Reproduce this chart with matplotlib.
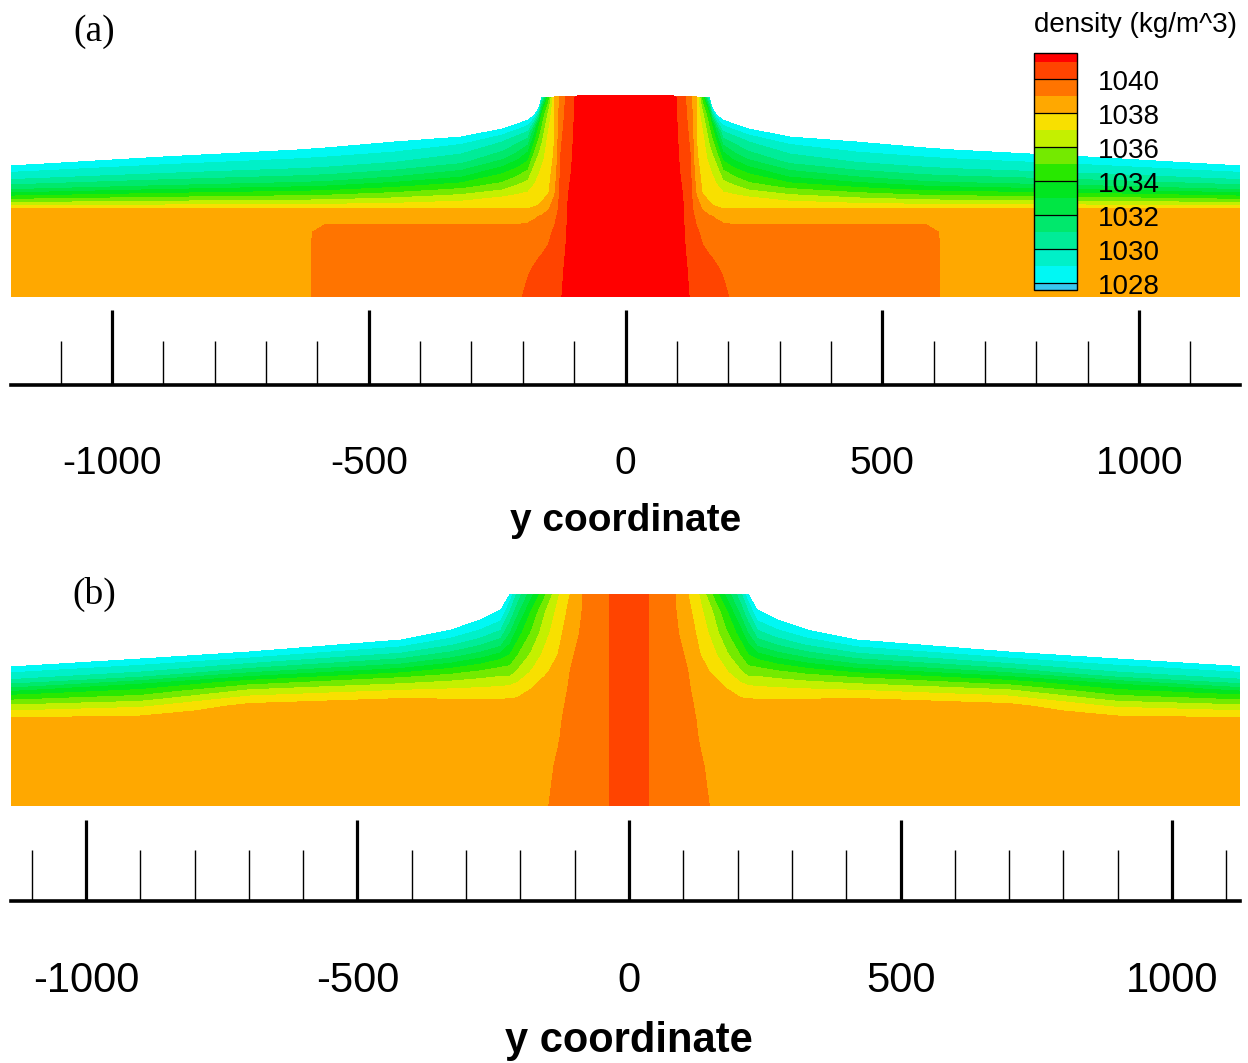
import numpy as np
import matplotlib
matplotlib.use('Agg')
import matplotlib.pyplot as plt
from matplotlib.ticker import MultipleLocator

plt.rcParams['font.family'] = ['Liberation Sans', 'DejaVu Sans']
plt.rcParams['axes.unicode_minus'] = False

# contour levels (kg/m^3) and one colour per band
levels = [1027.6, 1028, 1029, 1030, 1031, 1032, 1033, 1034, 1035,
          1036, 1037, 1038, 1039, 1040, 1041, 1041.55]
band_colors = ['#38c8f0', '#00f8f4', '#00f0c8', '#00ec98', '#00e86c',
               '#00e644', '#00e620', '#28e800', '#74ea00', '#c4f000',
               '#f8e000', '#ffa800', '#ff7400', '#ff4400', '#ff0000']
cbar_ticks = [1028, 1030, 1032, 1034, 1036, 1038, 1040]

# vertical rows: fixed heights near the bed, surface-following fractions above
frac = [0, 0.15, 0.3, 0.45, 0.65, 0.85, 1.0]

# ---- (a) ----  columns for y <= 0 (mirrored), free surface height
ya = [-1200, -900, -640, -585, -450, -320, -240, -210, -190, -177,
      -168, -163, -150, -138, -126, -112, -95, -50, 0]
top_a = [131, 140, 147, 149, 155, 160, 168, 173, 177, 182,
         190, 200, 200, 200, 201, 201, 201, 202, 202]
low_a = [0, 30, 50, 65, 80]
base_a = 88
# density along each column, bed first
rho_a = [
    [1038.5, 1038.5, 1038.5, 1038.5, 1038.5, 1038.05, 1036.0, 1034.0, 1032.0, 1030.2, 1029.0, 1028.1],
    [1038.5, 1038.5, 1038.5, 1038.5, 1038.5, 1038.05, 1036.0, 1034.0, 1032.0, 1030.2, 1029.0, 1028.1],
    [1038.5, 1038.5, 1038.5, 1038.5, 1038.5, 1038.05, 1036.0, 1034.0, 1032.0, 1030.2, 1029.0, 1028.1],
    [1039.5, 1039.5, 1039.5, 1039.4, 1038.6, 1038.05, 1036.0, 1034.0, 1032.0, 1030.2, 1029.0, 1028.1],
    [1039.5, 1039.5, 1039.5, 1039.4, 1038.6, 1038.05, 1036.2, 1034.3, 1032.3, 1030.3, 1029.0, 1028.1],
    [1039.5, 1039.5, 1039.5, 1039.4, 1038.6, 1038.05, 1036.6, 1034.8, 1032.9, 1030.8, 1029.4, 1028.1],
    [1039.5, 1039.5, 1039.5, 1039.4, 1038.6, 1038.05, 1037.0, 1035.3, 1033.9, 1031.6, 1029.9, 1028.1],
    [1039.85, 1039.6, 1039.5, 1039.4, 1038.6, 1038.02, 1037.2, 1035.85, 1034.4, 1032.2, 1030.2, 1028.1],
    [1040.2, 1039.9, 1039.6, 1039.45, 1038.7, 1038.02, 1037.3, 1036.2, 1034.9, 1032.9, 1030.3, 1028.1],
    [1040.4, 1040.05, 1039.7, 1039.5, 1038.9, 1038.1, 1037.5, 1036.85, 1036.15, 1034.75, 1032.4, 1028.1],
    [1040.5, 1040.2, 1039.8, 1039.6, 1039.1, 1038.15, 1037.65, 1037.2, 1036.6, 1035.4, 1033.7, 1028.1],
    [1040.55, 1040.25, 1039.85, 1039.65, 1039.2, 1038.2, 1037.75, 1037.3, 1036.75, 1035.6, 1034.1, 1028.7],
    [1040.7, 1040.4, 1040.05, 1039.8, 1039.3, 1038.95, 1037.9, 1037.7, 1037.45, 1037.2, 1036.2, 1034.4],
    [1040.8, 1040.55, 1040.35, 1040.15, 1039.8, 1039.4, 1038.9, 1038.5, 1038.2, 1037.98, 1037.95, 1037.95],
    [1040.95, 1040.8, 1040.65, 1040.55, 1040.45, 1040.4, 1040.3, 1040.2, 1040.05, 1039.8, 1039.5, 1039.3],
    [1041.3, 1041.25, 1041.15, 1041.1, 1041.05, 1041.03, 1040.97, 1040.85, 1040.75, 1040.6, 1040.45, 1040.37],
    [1041.4, 1041.4, 1041.4, 1041.35, 1041.35, 1041.3, 1041.3, 1041.3, 1041.25, 1041.25, 1041.2, 1041.15],
    [1041.45, 1041.45, 1041.45, 1041.45, 1041.45, 1041.45, 1041.45, 1041.45, 1041.45, 1041.45, 1041.45, 1041.45],
    [1041.5, 1041.5, 1041.5, 1041.5, 1041.5, 1041.5, 1041.5, 1041.5, 1041.5, 1041.5, 1041.5, 1041.5],
]

# ---- (b) ----
yb = [-1140, -900, -700, -420, -328, -273, -236, -219, -205, -180,
      -155, -130, -108, -85, -55, -40, -28, 0]
top_b = [139, 147, 154, 166, 176, 186, 196, 212, 212, 212,
         212, 212, 212, 212, 212, 212, 212, 212]
low_b = [0, 40, 70, 85, 95]
base_b = 100
rho_b = [
    [1038.5, 1038.5, 1038.5, 1038.45, 1037.0, 1036.2, 1035.0, 1033.8, 1032.1, 1030.15, 1029.0, 1028.1],
    [1038.5, 1038.5, 1038.5, 1038.45, 1037.55, 1036.8, 1035.6, 1034.4, 1033.2, 1030.5, 1029.1, 1028.1],
    [1038.5, 1038.5, 1038.5, 1038.5, 1038.45, 1038.3, 1037.3, 1036.0, 1034.35, 1031.5, 1029.3, 1028.1],
    [1038.5, 1038.5, 1038.5, 1038.5, 1038.5, 1038.45, 1037.85, 1036.4, 1034.77, 1031.8, 1029.4, 1028.1],
    [1038.5, 1038.5, 1038.5, 1038.5, 1038.5, 1038.45, 1037.7, 1036.3, 1034.65, 1031.75, 1029.35, 1028.1],
    [1038.5, 1038.5, 1038.5, 1038.5, 1038.5, 1038.45, 1037.6, 1036.2, 1034.55, 1031.65, 1029.3, 1028.1],
    [1038.5, 1038.5, 1038.5, 1038.5, 1038.5, 1038.45, 1037.5, 1036.1, 1034.5, 1031.6, 1029.3, 1028.1],
    [1038.5, 1038.5, 1038.5, 1038.5, 1038.5, 1038.45, 1037.4, 1035.6, 1034.1, 1032.0, 1030.0, 1028.2],
    [1038.5, 1038.5, 1038.5, 1038.5, 1038.5, 1038.45, 1037.55, 1036.2, 1035.0, 1033.5, 1031.6, 1030.3],
    [1038.5, 1038.5, 1038.5, 1038.5, 1038.5, 1038.45, 1038.02, 1037.1, 1036.2, 1035.1, 1034.0, 1032.6],
    [1038.9, 1038.8, 1038.72, 1038.68, 1038.64, 1038.6, 1038.35, 1037.9, 1037.3, 1036.6, 1035.9, 1034.8],
    [1039.25, 1039.1, 1038.95, 1038.9, 1038.85, 1038.8, 1038.6, 1038.3, 1038.05, 1037.7, 1037.3, 1036.9],
    [1039.5, 1039.4, 1039.3, 1039.25, 1039.2, 1039.2, 1039.12, 1039.02, 1038.9, 1038.6, 1038.3, 1038.02],
    [1039.65, 1039.6, 1039.5, 1039.45, 1039.4, 1039.4, 1039.35, 1039.3, 1039.25, 1039.15, 1039.05, 1039.0],
    [1039.8, 1039.8, 1039.78, 1039.77, 1039.76, 1039.75, 1039.75, 1039.74, 1039.73, 1039.72, 1039.71, 1039.7],
    [1039.9, 1039.9, 1039.9, 1039.9, 1039.9, 1039.9, 1039.9, 1039.9, 1039.9, 1039.9, 1039.9, 1039.9],
    [1040.2, 1040.2, 1040.2, 1040.2, 1040.2, 1040.2, 1040.2, 1040.2, 1040.2, 1040.2, 1040.2, 1040.2],
    [1040.5, 1040.5, 1040.5, 1040.5, 1040.5, 1040.5, 1040.5, 1040.5, 1040.5, 1040.5, 1040.5, 1040.5],
]


def build_grid(xs, tops, low, base, rho):
    # mirror the half section about y = 0 and stack the row heights
    xs = np.array(xs, float)
    tops = np.array(tops, float)
    x = np.concatenate([xs, -xs[-2::-1]])
    t = np.concatenate([tops, tops[-2::-1]])
    r = np.array(rho, float).T
    r = np.concatenate([r, r[:, -2::-1]], axis=1)
    z_low = np.repeat(np.array(low, float)[:, None], len(x), axis=1)
    z_up = base + np.array(frac)[:, None] * (t[None, :] - base)
    Z = np.vstack([z_low, z_up])
    X = np.broadcast_to(x, Z.shape)
    return X, Z, r


W, H = 1248, 1063
fig = plt.figure(figsize=(W / 100, H / 100), dpi=100)


def panel(rect, grid, xlim, ylim, major_len, minor_len, fs, pad):
    ax = fig.add_axes(rect)
    X, Z, R = grid
    cs = ax.contourf(X, Z, R, levels=levels, colors=band_colors)
    ax.set_xlim(*xlim)
    ax.set_ylim(*ylim)
    for s in ['top', 'left', 'right']:
        ax.spines[s].set_visible(False)
    ax.spines['bottom'].set_linewidth(2.6)
    ax.set_yticks([])
    ax.xaxis.set_major_locator(MultipleLocator(500))
    ax.xaxis.set_minor_locator(MultipleLocator(100))
    ax.tick_params(axis='x', which='major', direction='in', length=major_len,
                   width=2.3, pad=pad, labelsize=fs)
    ax.tick_params(axis='x', which='minor', direction='in', length=minor_len,
                   width=1.0)
    return ax, cs


ax_a, cs_a = panel([11 / W, 1 - 385 / H, 1229 / W, 295 / H],
                   build_grid(ya, top_a, low_a, base_a, rho_a),
                   (-1197, 1197), (-88, 207), 54, 32, 28, 44)
ax_b, cs_b = panel([11 / W, 1 - 901 / H, 1229 / W, 313 / H],
                   build_grid(yb, top_b, low_b, base_b, rho_b),
                   (-1138, 1125), (-95, 218), 58, 37, 30, 43)

fig.text(626 / W, 1 - 521 / H, 'y coordinate', ha='center', va='center',
         fontsize=28, fontweight='bold')
fig.text(629 / W, 1 - 1041 / H, 'y coordinate', ha='center', va='center',
         fontsize=30, fontweight='bold')
fig.text(94 / W, 1 - 32 / H, '(a)', ha='center', va='center', fontsize=27,
         family='Liberation Serif')
fig.text(94 / W, 1 - 594 / H, '(b)', ha='center', va='center', fontsize=27,
         family='Liberation Serif')

# legend bar drawn over panel (a)
cax = fig.add_axes([1034 / W, 1 - 290 / H, 43 / W, 237 / H])
cb = fig.colorbar(cs_a, cax=cax, spacing='proportional', ticks=cbar_ticks)
cb.outline.set_linewidth(1.0)
cax.set_yticklabels([])
cax.tick_params(length=0)
for lv in cbar_ticks:
    cax.axhline(lv, color='k', lw=0.9)
    cax.text(64 / 43, lv - 0.24, str(lv), transform=cax.get_yaxis_transform(),
             ha='left', va='center', fontsize=20)
fig.text(1136 / W, 1 - 25 / H, 'density (kg/m^3)', ha='center', va='center',
         fontsize=20)

fig.savefig('out.png', dpi=100)
